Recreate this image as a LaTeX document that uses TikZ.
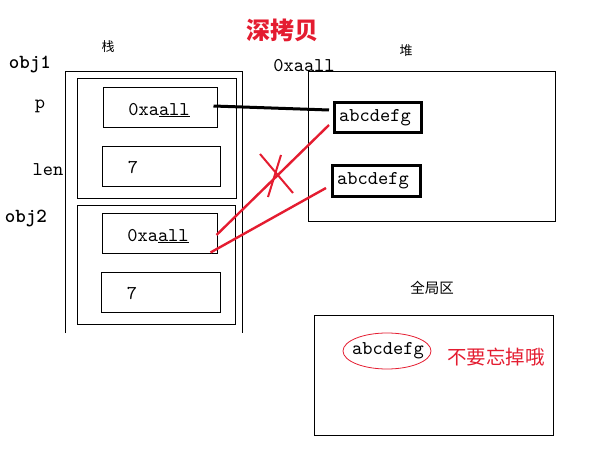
\documentclass[tikz,border=0pt]{standalone}
\usepackage{fontspec}
\usetikzlibrary{calc,shapes.geometric}
\newfontfamily\cjk{Noto Sans CJK SC}
\newfontfamily\monof{lmmono10-regular}[Extension=.otf]
\newfontfamily\monobf{lmmonolt10-bold}[Extension=.otf]
\definecolor{rd}{RGB}{228,28,48}
\tikzset{
  strbox/.style={draw, line width=3pt, inner sep=0pt},
  code/.style={font=\monof\fontsize{19.5}{21}\selectfont, inner sep=0pt},
  objlbl/.style={font=\monobf\fontsize{20}{22}\selectfont, inner sep=0pt},
  cjklbl/.style={font=\cjk\fontsize{#1}{#1}\selectfont, inner sep=0pt},
  redline/.style={draw=rd, line width=2.4pt},
}
\begin{document}
\begin{tikzpicture}[x=1pt,y=-1pt]
\useasboundingbox (0,0) rectangle (597,460);
% title
\node[text=rd, inner sep=0pt, font=\cjk\bfseries\fontsize{24}{24}\selectfont] (title) at (282,30) {深拷贝};
% stack
\node[cjklbl=13] (zhan) at (108,47) {栈};
\draw[line width=1pt] (65,333) -- (65,72) -- (242,72) -- (242,333);
\node[draw, line width=1pt, minimum width=159pt, minimum height=119pt] (o1) at (156.5,138.5) {};
\node[draw, line width=1pt, minimum width=158pt, minimum height=119pt] (o2) at (156,264.5) {};
\node[objlbl] (obj1) at (30,65) {obj1};
\node[objlbl] (obj2) at (26,218) {obj2};
\node[code] (plbl) at (40,106) {p};
\node[code] (lenlbl) at (48,170) {len};
\node[draw, line width=1pt, minimum width=114pt, minimum height=40pt] (p1) at (160,107) {};
\node[draw, line width=1pt, minimum width=118pt, minimum height=40pt] (l1) at (161,166) {};
\node[draw, line width=1pt, minimum width=115pt, minimum height=40pt] (p2) at (159.5,233) {};
\node[draw, line width=1pt, minimum width=119pt, minimum height=40pt] (l2) at (160.5,292) {};
\node[code] (p1t) at (159,110) {0xa\underline{all}};
\node[code] (l1t) at (133,167) {7};
\node[code] (p2t) at (158,236) {0xa\underline{all}};
\node[code] (l2t) at (132,293) {7};
% heap
\node[code] (addr) at (304,66) {0xaall};
\node[cjklbl=13] (dui) at (406,51) {堆};
\node[draw, line width=1pt, minimum width=247pt, minimum height=149pt] (heap) at (431.5,146.5) {};
\node[strbox, minimum width=87pt, minimum height=30pt] (s1) at (378,117.5) {};
\node[strbox, minimum width=88pt, minimum height=31pt] (s2) at (376.5,181) {};
\node[code, anchor=west] (s1t) at (339,118) {abcdefg};
\node[code, anchor=west] (s2t) at (337,181) {abcdefg};
% global
\node[cjklbl=14.5] (qj) at (432,288) {全局区};
\node[draw, line width=1pt, minimum width=239pt, minimum height=120pt] (glob) at (433.5,375) {};
\node[ellipse, draw=rd, line width=0.8pt, minimum width=88pt, minimum height=36pt, inner sep=0pt] (ell) at (387,351) {};
\node[code] (ellt) at (388,351) {abcdefg};
\node[cjklbl=19.5, text=rd] (note) at (496,357) {不要忘掉哦};
% connectors
\draw[line width=3pt] ($(p1.east)+(-4,-1)$) -- ($(s1.west)+(-4,-7.5)$);
\draw[redline] ($(p2.east)+(-1,2)$) -- ($(s1.west)+(-4,7.5)$);
\draw[redline] ($(p2.south east)+(-7,-1)$) -- ($(s2.west)+(-5,7)$);
\coordinate (x) at (276,174);
\draw[redline, line width=2pt] ($(x)+(-16,-20)$) -- ($(x)+(17,19)$);
\draw[redline, line width=2pt] ($(x)+(5,-19)$) -- ($(x)+(-8,23)$);
\end{tikzpicture}
\end{document}
